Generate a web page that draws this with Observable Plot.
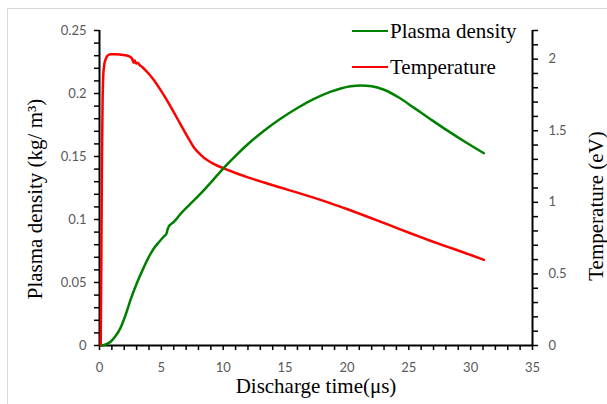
<!DOCTYPE html>
<html>
<head>
<meta charset="utf-8">
<script src="https://cdn.jsdelivr.net/npm/d3@7"></script>
<script src="https://cdn.jsdelivr.net/npm/@observablehq/plot@0.6"></script>
<style>
  body { margin: 0; background: #fff; }
  #wrap { position: relative; width: 607px; height: 404px; overflow: hidden; }
  #frame { position: absolute; left: 7px; top: 8px; width: 700px; height: 500px; border: 1px solid #d9d9d9; box-sizing: border-box; }
  #legend { position: absolute; left: 352px; top: 13px; font-family: "Liberation Serif", "Times New Roman", serif; font-size: 21px; color: #000; }
  .row { display: flex; align-items: center; height: 36px; }
  .sw { width: 36px; height: 2.5px; margin-right: 2px; }
  svg { position: absolute; left: 0; top: 0; }
</style>
</head>
<body>
<div id="wrap">
  <div id="frame"></div>
</div>
<script>
// Discharge time (µs) and temperature (eV)
const tempTime = [0.1, 0.15, 0.2, 0.25, 0.3, 0.4, 0.5, 0.65, 0.9, 1.3, 1.8, 2.2, 2.5, 2.65, 2.75, 2.85, 2.95, 3.1, 3.25, 3.45, 3.85, 4.39, 4.93, 5.47, 6.0, 6.55, 7.1, 7.62, 8.2, 8.7, 9.3, 10.05, 11, 11.94, 13.3, 14.63, 16, 17.3, 18.7, 20, 21.4, 22.8, 24.1, 25.5, 26.8, 28.2, 29.5, 31.07];
const temperature = [0, 0.6, 1.3, 1.7, 1.88, 1.97, 2.0, 2.025, 2.035, 2.035, 2.03, 2.025, 2.015, 2.0, 1.975, 1.99, 1.97, 1.975, 1.958, 1.945, 1.91, 1.855, 1.785, 1.71, 1.63, 1.545, 1.46, 1.385, 1.33, 1.295, 1.265, 1.237, 1.205, 1.176, 1.138, 1.103, 1.068, 1.033, 0.993, 0.953, 0.908, 0.862, 0.818, 0.772, 0.730, 0.687, 0.648, 0.598];
// Discharge time (µs) and plasma density (kg/m³)
const densTime = [0.2, 0.5, 0.9, 1.3, 1.7, 2.1, 2.5, 3.0, 3.58, 4.0, 4.39, 4.8, 5.2, 5.4, 5.5, 5.6, 5.8, 6.0, 6.55, 7.3, 8.17, 9.1, 10.05, 11, 11.94, 13.3, 14.63, 16, 17.3, 18.7, 19.5, 20.3, 21.1, 22, 23, 24.2, 25.4, 26.7, 28.1, 29.6, 31.07];
const density = [0, 0.0008, 0.003, 0.0075, 0.014, 0.024, 0.036, 0.049, 0.062, 0.0705, 0.077, 0.082, 0.0865, 0.0885, 0.092, 0.0945, 0.0965, 0.098, 0.1045, 0.112, 0.1205, 0.1305, 0.141, 0.1505, 0.1593, 0.1705, 0.18, 0.1885, 0.1955, 0.2015, 0.204, 0.2057, 0.2064, 0.2058, 0.203, 0.1968, 0.1888, 0.18, 0.1707, 0.1613, 0.1526];

const seriesNames = ["Plasma density", "Temperature"];
const seriesColors = ["#008000", "#ff0000"];
const xTicks = d3.range(0, 36, 1);
const yLeftTicks = d3.range(0, 26).map(i => i / 100);
const yRightTicks = d3.range(0, 23).map(i => i / 10);

const yMax = 0.25, tMax = 2.2;
const k = yMax / tMax;

const temps = tempTime.map((t, i) => ({t, v: temperature[i]}));
const dens = densTime.map((t, i) => ({t, v: density[i]}));

const serif = "Liberation Serif, Times New Roman, serif";

const chart = Plot.plot({
  width: 607,
  height: 404,
  marginLeft: 99,
  marginRight: 75,
  marginTop: 30,
  marginBottom: 59,
  x: {domain: [0, 35]},
  y: {domain: [0, yMax]},
  style: {fontFamily: "Lato, sans-serif", fontSize: "13px", background: "transparent", overflow: "visible"},
  marks: [
    Plot.axisX({ticks: xTicks, tickSize: 5, tickPadding: 12, strokeWidth: 1.5, stroke: "#000", fill: "#595959",
      tickFormat: d => d % 5 === 0 ? String(d) : "", label: null}),
    Plot.axisY({anchor: "left", ticks: yLeftTicks, tickSize: 5, tickPadding: 8, strokeWidth: 1.5, stroke: "#000", fill: "#595959",
      tickFormat: d => { const v = Math.round(d * 100); return v % 5 === 0 ? String(v / 100) : ""; }, label: null}),
    Plot.axisY({anchor: "right", ticks: yRightTicks.map(v => v * k), tickSize: 5, tickPadding: 11, strokeWidth: 1.5, stroke: "#000", fill: "#595959",
      tickFormat: d => { const v = Math.round(d / k * 10); return v % 5 === 0 ? String(v / 10) : ""; }, label: null}),
    Plot.ruleX([0, 35], {stroke: "#000", strokeWidth: 2}),
    Plot.ruleY([0], {stroke: "#000", strokeWidth: 2}),
    Plot.line(temps, {x: "t", y: d => d.v * k, stroke: seriesColors[1], strokeWidth: 2.5, curve: "monotone-x"}),
    Plot.line(dens, {x: "t", y: "v", stroke: seriesColors[0], strokeWidth: 2.5, curve: "monotone-x"}),
    Plot.text(["Discharge time(μs)"], {frameAnchor: "bottom", textAnchor: "middle", lineAnchor: "bottom", dy: 47, text: d => d,
      fontFamily: serif, fontSize: 21, fill: "#000"}),
    Plot.text(["Plasma density (kg/ m³)"], {frameAnchor: "left", textAnchor: "middle", lineAnchor: "bottom", rotate: -90, dx: -58, dy: 11, text: d => d,
      fontFamily: serif, fontSize: 21, fill: "#000"}),
    Plot.text(["Temperature (eV)"], {frameAnchor: "right", textAnchor: "middle", lineAnchor: "bottom", rotate: -90, dx: 70, dy: 18, text: d => d,
      fontFamily: serif, fontSize: 21, fill: "#000"})
  ]
});

const wrap = document.getElementById("wrap");
wrap.appendChild(chart);

const legend = document.createElement("div");
legend.id = "legend";
seriesNames.forEach((name, i) => {
  const row = document.createElement("div");
  row.className = "row";
  const sw = document.createElement("span");
  sw.className = "sw";
  sw.style.background = seriesColors[i];
  const label = document.createElement("span");
  label.textContent = name;
  row.appendChild(sw);
  row.appendChild(label);
  legend.appendChild(row);
});
wrap.appendChild(legend);
</script>
</body>
</html>
